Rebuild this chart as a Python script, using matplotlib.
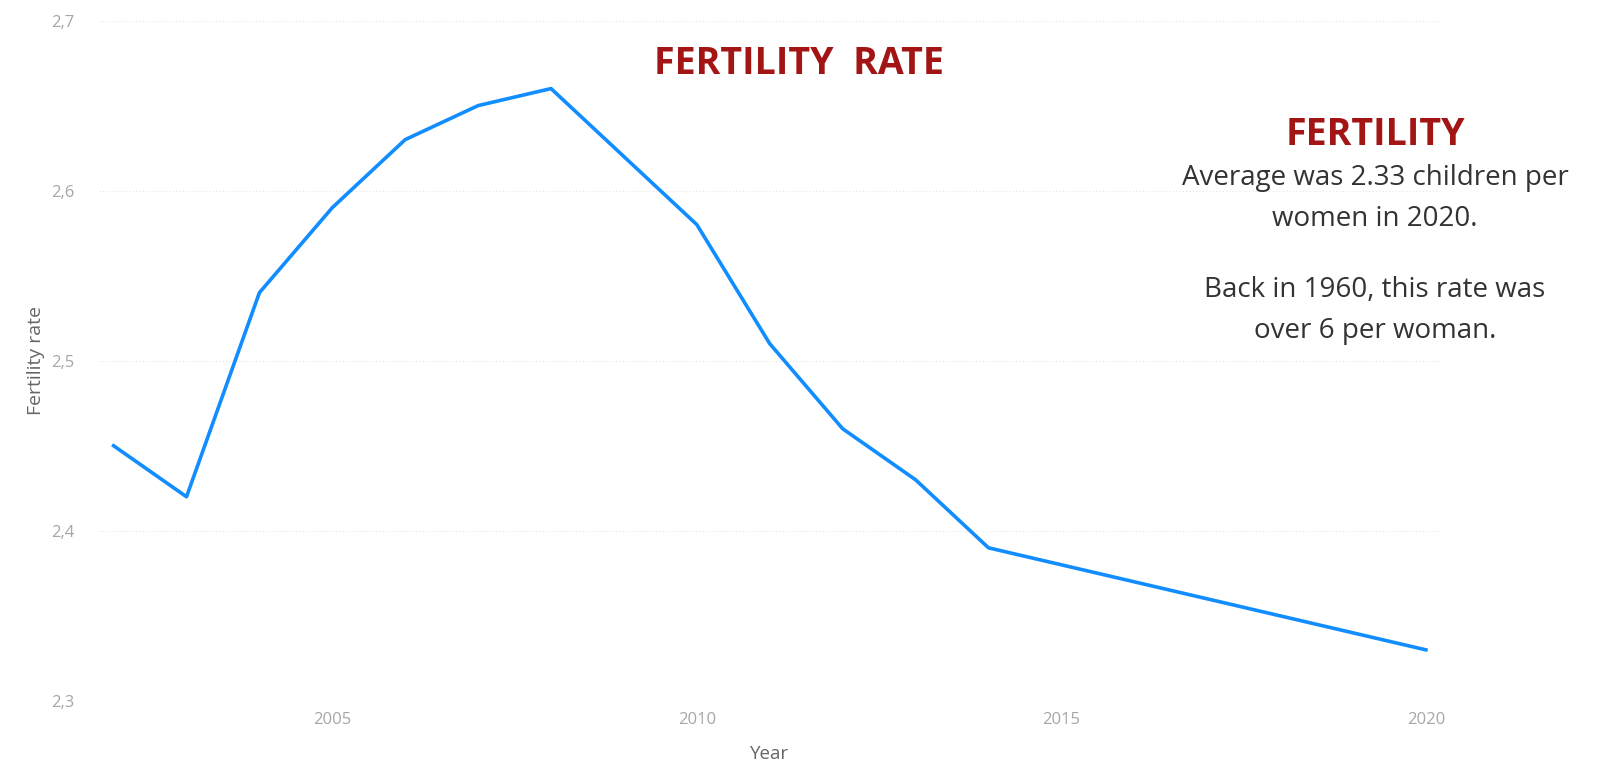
import matplotlib
matplotlib.use('Agg')
from matplotlib import pyplot as plt
from matplotlib.ticker import FuncFormatter

years = [2002, 2003, 2004, 2005, 2006, 2007, 2008, 2009, 2010, 2011,
         2012, 2013, 2014, 2015, 2016, 2017, 2018, 2019, 2020]
fertility = [2.45, 2.42, 2.54, 2.59, 2.63, 2.65, 2.66, 2.62, 2.58, 2.51,
             2.46, 2.43, 2.39, 2.38, 2.37, 2.36, 2.35, 2.34, 2.33]
x_ticks = [2005, 2010, 2015, 2020]
y_ticks = [2.3, 2.4, 2.5, 2.6, 2.7]

plt.rcParams['font.family'] = ['Open Sans', 'DejaVu Sans']

fig = plt.figure(figsize=(15.97, 7.61), dpi=100)
ax = fig.add_axes([0.062, 0.079, 0.840, 0.894])

ax.plot(years, fertility, color='#118DFF', linewidth=2.6, solid_joinstyle='round')

ax.set_xlim(2001.8, 2020.2)
ax.set_ylim(2.3, 2.7)
ax.set_xticks(x_ticks)
ax.set_yticks(y_ticks)
ax.yaxis.set_major_formatter(FuncFormatter(lambda v, p: ('%.1f' % v).replace('.', ',')))
ax.tick_params(length=0, labelsize=12, labelcolor='#a6a6a6')
ax.tick_params(axis='y', pad=18)
ax.tick_params(axis='x', pad=8)
ax.grid(axis='y', color='#e6e6e6', linestyle=(0, (1, 2)), linewidth=0.8)
for s in ax.spines.values():
    s.set_visible(False)

ax.set_xlabel('Year', fontsize=13.5, color='#666666', labelpad=12)
ax.set_ylabel('Fertility rate', fontsize=14, color='#666666', labelpad=4)

fig.text(0.5, 0.916, 'FERTILITY  RATE', ha='center', va='center',
         fontsize=27, fontweight='bold', color='#A31515')

fig.text(0.861, 0.823, 'FERTILITY', ha='center', va='center',
         fontsize=27, fontweight='bold', color='#A31515')
fig.text(0.861, 0.739, 'Average was 2.33 children per\nwomen in 2020.',
         ha='center', va='center', fontsize=20, color='#333333', linespacing=1.6)
fig.text(0.861, 0.592, 'Back in 1960, this rate was\nover 6 per woman.',
         ha='center', va='center', fontsize=20, color='#333333', linespacing=1.6)

fig.savefig('out.png', dpi=100)
